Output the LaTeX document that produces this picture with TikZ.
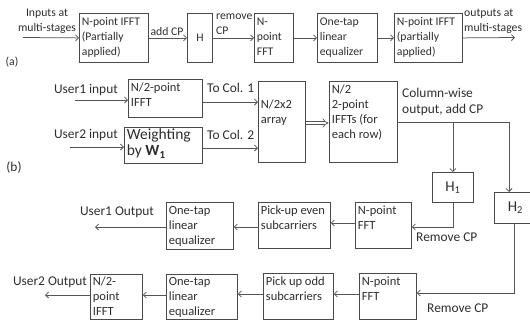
\documentclass[tikz,border=0pt]{standalone}
\usepackage{fontspec}
\setmainfont{Carlito}
\usetikzlibrary{arrows.meta}
\definecolor{boxc}{HTML}{4A4A4A}
\definecolor{linec}{HTML}{555555}
\definecolor{txtc}{HTML}{2E2E2E}
\newcommand{\bt}[4]{\parbox[c][#2pt][t]{#1pt}{\vspace*{#3pt}\raggedright\strut #4}}
\begin{document}
\begin{tikzpicture}[x=1pt,y=-1pt,
  font=\fontsize{11.7}{15}\selectfont, text=txtc,
  blk/.style={draw=boxc, line width=0.8pt, inner xsep=2.5pt, inner ysep=0pt, anchor=north west},
  hbx/.style={draw=boxc, line width=0.8pt, inner sep=0pt, anchor=north west},
  lbl/.style={inner sep=0pt},
  lblb/.style={inner sep=0pt, font=\fontsize{13.4}{15.5}\selectfont},
  arr/.style={draw=linec, line width=0.75pt, -{Straight Barb[length=3pt,width=6pt]}},
  dbl/.style={draw=linec, line width=0.7pt, double=white, double distance=2.4pt, -Implies}]
\useasboundingbox (0,0) rectangle (530,322);

% ---------- (a) ----------
\node[blk] (ifftA) at (79,13) {\bt{64}{49}{2}{N-point IFFT\\(Partially\\applied)}};
\node[hbx, minimum width=25pt, minimum height=49pt] (hA) at (187,13) {H};
\node[blk] (fftA) at (254,13) {\bt{34}{49}{2}{N-\\point\\FFT}};
\node[blk] (eqA) at (317,13) {\bt{55}{49}{2}{One-tap\\linear\\equalizer}};
\node[blk] (ifftB) at (394,13) {\bt{63}{49}{2}{N-point IFFT\\(partially\\applied)}};

\coordinate (inA) at (23,37.5);
\coordinate (outA) at (515,37.5);
\draw[arr] (inA) -- (ifftA.west);
\draw[arr] (ifftA.east) -- (hA.west);
\draw[arr] (hA.east) -- (fftA.west);
\draw[arr] (fftA.east) -- (eqA.west);
\draw[arr] (eqA.east) -- (ifftB.west);
\draw[arr] (ifftB.east) -- (outA);

\node[lbl, align=center] (tin) at (47,21) {Inputs at\\multi-stages};
\node[lbl] (taddcp) at (167,31) {add CP};
\node[lbl, align=left, anchor=west] (trem) at (216,24) {remove\\CP};
\node[lbl, align=left, anchor=west] (tout) at (464,21) {outputs at\\multi-stages};
\node[lbl] (ta) at (12,62) {(a)};

% ---------- (b) ----------
\begin{scope}[font=\fontsize{12.5}{15}\selectfont]
\node[blk] (ifftC) at (128,79) {\bt{69}{38}{2}{N/2-point\\IFFT}};
\node[blk] (wgt) at (124,127) {\bt{73}{36}{1.5}{\fontsize{15.5}{15}\selectfont Weighting\\by \textbf{W}\textsubscript{\textbf{1}}}};
\node[blk] (arr2) at (258,81) {\bt{42}{81}{17}{N/2x2\\array}};
\node[blk] (iffts) at (329,81) {\bt{63}{81}{2}{N/2\\2-point\\IFFTs (for\\each row)}};
\node[hbx, minimum width=41pt, minimum height=30pt, font=\fontsize{15}{18}\selectfont] (h1) at (432,172) {H\textsubscript{1}};
\node[hbx, minimum width=42pt, minimum height=31pt, font=\fontsize{15}{18}\selectfont] (h2) at (494,192) {H\textsubscript{2}};

\coordinate (inU1) at (75,100);
\coordinate (inU2) at (70,147);
\coordinate (h2in) at (509,0);
\coordinate (h2out) at (514,0);
\draw[arr] (inU1) -- (inU1 -| ifftC.west);
\draw[arr] (inU2) -- (inU2 -| wgt.west);
\draw[arr] (ifftC.east |- 0,102) -- (arr2.west |- 0,102);
\draw[arr] (wgt.east |- 0,148) -- (arr2.west |- 0,148);
\draw[dbl] (arr2.east |- 0,123) -- ([xshift=-0.5pt]iffts.west |- 0,123);
\draw[arr] (iffts.east |- 0,122) -| (h2in |- h2.north);
\draw[arr] (h1.north |- 0,122) -- (h1.north);

\node[lblb, anchor=east] (tu1) at (118,90) {User1 input};
\node[lblb, anchor=west] (tc1) at (207,88) {To Col. 1};
\node[lblb, anchor=east] (tu2) at (118,135) {User2 input};
\node[lblb, anchor=west] (tc2) at (207,135) {To Col. 2};
\node[lblb] (tb) at (14,168) {(b)};
\node[lblb, align=left, anchor=west] (tcol) at (402,102) {Column-wise\\output, add CP};

% receiver user 1
\node[blk] (fftB) at (355,202) {\bt{51}{46}{2}{N-point\\FFT}};
\node[blk] (even) at (258,202) {\bt{67}{46}{2}{Pick-up even\\subcarriers}};
\node[blk] (eqB) at (166,202) {\bt{62}{47}{2}{One-tap\\linear\\equalizer}};
\coordinate (outU1) at (95,227);
\draw[arr] (h1.south) |- (fftB.east |- 0,227);
\draw[arr] (fftB.west |- 0,223) -- (even.east |- 0,223);
\draw[arr] (even.west |- 0,227) -- (eqB.east |- 0,227);
\draw[arr] (eqB.west |- outU1) -- (outU1);
\node[lblb, anchor=west] (trm1) at (416,237) {Remove CP};
\node[lblb] (to1) at (117,212) {User1 Output};

% receiver user 2
\node[blk] (fftC) at (359,273) {\bt{52}{46}{2}{N-point\\FFT}};
\node[blk] (odd) at (263,273) {\bt{65}{46}{2}{Pick up odd\\subcarriers}};
\node[blk] (eqC) at (166,274) {\bt{66}{45}{1}{One-tap\\linear\\equalizer}};
\node[blk] (ifftD) at (90,274) {\bt{47}{45}{1}{N/2-\\point\\IFFT}};
\coordinate (outU2) at (45,295);
\draw[arr] (h2out |- h2.south) |- (fftC.east |- 0,293);
\draw[arr] (fftC.west |- 0,294) -- (odd.east |- 0,294);
\draw[arr] (odd.west |- 0,294) -- (eqC.east |- 0,294);
\draw[arr] (eqC.west |- 0,295) -- (ifftD.east |- 0,295);
\draw[arr] (ifftD.west |- outU2) -- (outU2);
\node[lblb, anchor=west] (trm2) at (427,308) {Remove CP};
\node[lblb] (to2) at (50,282) {User2 Output};
\end{scope}
\end{tikzpicture}
\end{document}
